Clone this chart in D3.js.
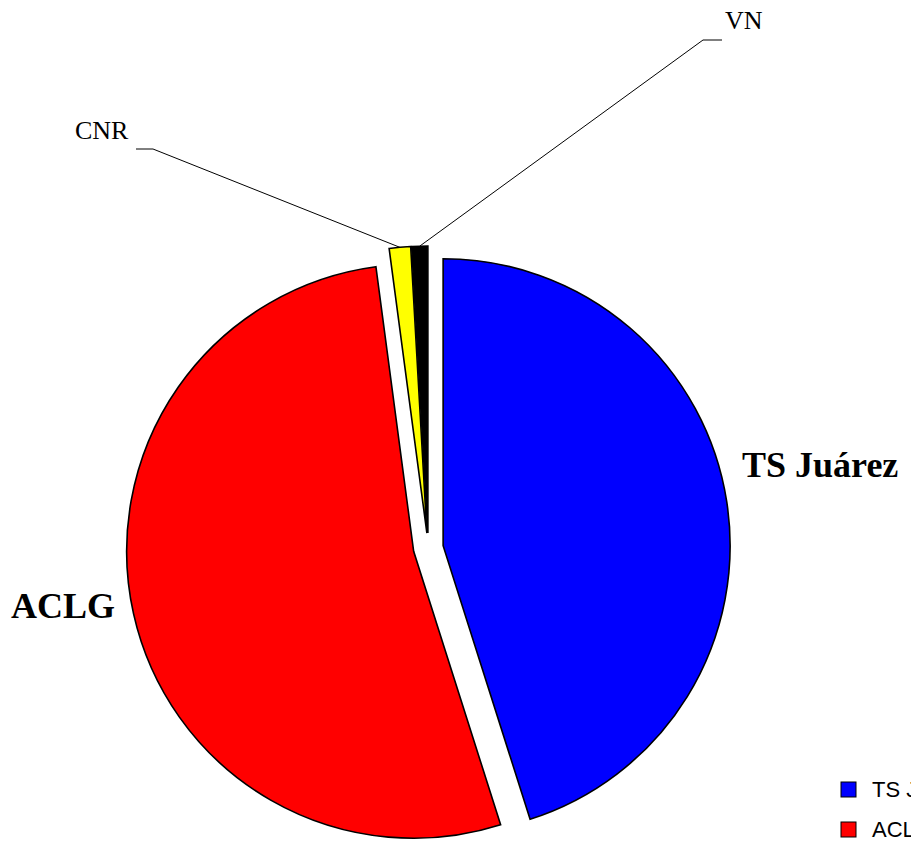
<!DOCTYPE html>
<html>
<head>
<meta charset="utf-8">
<script src="https://cdn.jsdelivr.net/npm/d3@7"></script>
<style>
  html, body { margin: 0; padding: 0; background: #fff; }
  svg { display: block; }
</style>
</head>
<body>
<svg id="chart" width="911" height="841"></svg>
<script>
// ---- data ----
const categories = ["TS Juárez", "ACLG", "CNR", "VN"];
const values = [45.1, 52.8, 1.2, 0.9];
const colors = ["#0000FF", "#FF0000", "#FFFF00", "#000000"];

// ---- layout ----
const svg = d3.select("#chart");
const cx = 428.3, cy = 548, R = 287, explode = 15;

const pie = d3.pie().sort(null).value(d => d.v).startAngle(0).endAngle(2 * Math.PI);
const arcs = pie(categories.map((c, i) => ({ c, v: values[i], col: colors[i] })));
const arc = d3.arc().innerRadius(0).outerRadius(R);

const g = svg.append("g").attr("transform", `translate(${cx},${cy})`);

function offset(a) {
  const m = (a.startAngle + a.endAngle) / 2;
  return [explode * Math.sin(m), -explode * Math.cos(m)];
}

g.selectAll("path.slice")
  .data(arcs)
  .join("path")
  .attr("class", "slice")
  .attr("transform", d => { const o = offset(d); return `translate(${o[0]},${o[1]})`; })
  .attr("d", arc)
  .attr("fill", d => d.data.col)
  .attr("stroke", "#000")
  .attr("stroke-width", 1.6)
  .attr("stroke-linejoin", "miter");

// outer point of slice at mid-angle
function outerPt(a) {
  const m = (a.startAngle + a.endAngle) / 2;
  const o = offset(a);
  return [cx + o[0] + R * Math.sin(m), cy + o[1] - R * Math.cos(m)];
}

// big bold labels
const bigLabels = [
  { i: 0, x: 742, y: 477 },
  { i: 1, x: 11, y: 618 }
];
bigLabels.forEach(l => {
  svg.append("text")
    .attr("x", l.x).attr("y", l.y)
    .attr("font-family", "'Liberation Serif', 'Times New Roman', serif")
    .attr("font-weight", "bold")
    .attr("font-size", 36)
    .attr("fill", "#000")
    .text(categories[l.i]);
});

// small labels with leader lines
const smallLabels = [
  { i: 2, x: 75, y: 139, hx1: 136, hx2: 153, hy: 149 },
  { i: 3, x: 725, y: 29, hx1: 722, hx2: 703, hy: 40 }
];
smallLabels.forEach(l => {
  const p = outerPt(arcs[l.i]);
  svg.append("polyline")
    .attr("points", `${l.hx1},${l.hy} ${l.hx2},${l.hy} ${p[0]},${p[1]}`)
    .attr("fill", "none")
    .attr("stroke", "#000")
    .attr("stroke-width", 1);
  svg.append("text")
    .attr("x", l.x).attr("y", l.y)
    .attr("font-family", "'Liberation Serif', 'Times New Roman', serif")
    .attr("font-size", 26)
    .attr("fill", "#000")
    .text(categories[l.i]);
});

// legend (clipped at the right/bottom edge as in reference)
const legend = svg.append("g").attr("transform", "translate(841,782)");
const items = legend.selectAll("g").data(categories).join("g")
  .attr("transform", (d, i) => `translate(0,${i * 40})`);
items.append("rect")
  .attr("width", 15).attr("height", 15)
  .attr("fill", (d, i) => colors[i])
  .attr("stroke", "#000").attr("stroke-width", 1);
items.append("text")
  .attr("x", 31).attr("y", 15)
  .attr("font-family", "'Liberation Sans', Arial, sans-serif")
  .attr("font-size", 22)
  .attr("fill", "#000")
  .text(d => d);
</script>
</body>
</html>
